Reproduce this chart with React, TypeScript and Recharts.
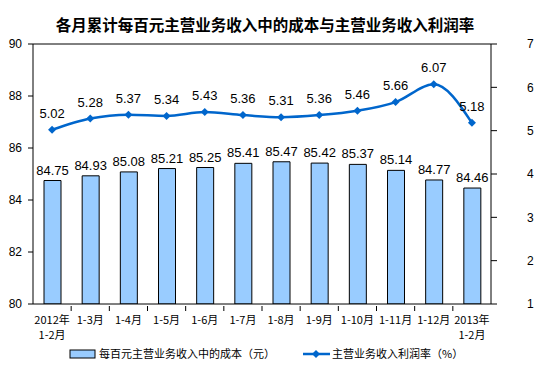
import React from 'react'
import { ComposedChart, Bar, Line, XAxis, YAxis, LabelList, ReferenceLine } from 'recharts'

const periods = ['2012年\n1-2月', '1-3月', '1-4月', '1-5月', '1-6月', '1-7月', '1-8月', '1-9月', '1-10月', '1-11月', '1-12月', '2013年\n1-2月']
const costPer100 = [84.75, 84.93, 85.08, 85.21, 85.25, 85.41, 85.47, 85.42, 85.37, 85.14, 84.77, 84.46]
const profitRate = [5.02, 5.28, 5.37, 5.34, 5.43, 5.36, 5.31, 5.36, 5.46, 5.66, 6.07, 5.18]
const leftTicks = [80, 82, 84, 86, 88, 90]
const rightTicks = [1, 2, 3, 4, 5, 6, 7]

const barName = '每百元主营业务收入中的成本（元）'
const lineName = '主营业务收入利润率（%）'

const data = periods.map((p, i) => ({ name: p, cost: costPer100[i], rate: profitRate[i] }))

const W = 554
const H = 371
const M = { top: 44, right: 63, bottom: 67, left: 33 }
const band = (W - M.left - M.right) / periods.length

const numFont = '"Liberation Sans", Arial, sans-serif'
const cjkFont = '"Noto Sans CJK SC", sans-serif'

function XTick({ x, y, payload, index }: any) {
  const lines = String(payload.value).split('\n')
  return (
    <g>
      {index < periods.length - 1 && (
        <line x1={x + band / 2} x2={x + band / 2} y1={y - 6} y2={y - 1} stroke="#000" />
      )}
      <text x={x} y={y + 12} textAnchor="middle" fontSize={11} fontFamily={cjkFont} fill="#000">
        {lines.map((l, i) => (
          <tspan key={i} x={x} dy={i === 0 ? 0 : 15}>{l}</tspan>
        ))}
      </text>
    </g>
  )
}

function Diamond({ cx, cy }: any) {
  if (cx == null || cy == null) return null
  const r = 4
  return <path d={`M${cx},${cy - r}L${cx + r},${cy}L${cx},${cy + r}L${cx - r},${cy}Z`} fill="#0066CC" />
}

function LegendBox() {
  return (
    <g>
      <rect x={70} y={350} width={25} height={8} fill="#99CCFF" stroke="#000" />
      <text x={99} y={358} fontSize={11} fontFamily={cjkFont} fill="#000">{barName}</text>
      <line x1={303} x2={330} y1={354} y2={354} stroke="#0066CC" strokeWidth={2.5} />
      <Diamond cx={316} cy={354} />
      <text x={332} y={358} fontSize={11} fontFamily={cjkFont} fill="#000">{lineName}</text>
    </g>
  )
}

export default function App() {
  return (
    <div style={{ position: 'absolute', left: 0, top: 0, width: W, height: H, background: '#fff' }}>
      <div style={{ position: 'absolute', top: 14, left: 0, width: 530, textAlign: 'center', fontFamily: cjkFont, fontWeight: 'bold', fontSize: 15.5, lineHeight: '20px', color: '#000' }}>
        各月累计每百元主营业务收入中的成本与主营业务收入利润率
      </div>
      <ComposedChart width={W} height={H} data={data} margin={{ top: M.top, right: 0, bottom: 0, left: 0 }}>
        <XAxis
          dataKey="name"
          xAxisId="x"
          interval={0}
          tickLine={false}
          axisLine={{ stroke: '#000' }}
          tick={<XTick />}
          height={M.bottom}
        />
        <YAxis
          yAxisId="left"
          orientation="left"
          domain={[80, 90]}
          ticks={leftTicks}
          width={M.left}
          tickSize={5}
          tickMargin={6}
          stroke="#000"
          tick={{ fontSize: 12, fontFamily: numFont, fill: '#000' }}
          allowDataOverflow
        />
        <YAxis
          yAxisId="right"
          orientation="right"
          domain={[1, 7]}
          ticks={rightTicks}
          width={M.right}
          tickSize={6}
          tickMargin={30}
          stroke="#000"
          tick={{ fontSize: 12, fontFamily: numFont, fill: '#000' }}
        />
        <ReferenceLine yAxisId="left" xAxisId="x" y={90} stroke="#000" />
        <Bar xAxisId="x" yAxisId="left" dataKey="cost" name={barName} fill="#99CCFF" stroke="#000" strokeWidth={1} barSize={17} isAnimationActive={false}>
          <LabelList dataKey="cost" position="top" offset={6} fontSize={13} fontFamily={numFont} fill="#000" />
        </Bar>
        <Line
          xAxisId="x"
          yAxisId="right"
          type="monotone"
          dataKey="rate"
          name={lineName}
          stroke="#0066CC"
          strokeWidth={2.5}
          dot={<Diamond />}
          activeDot={false}
          isAnimationActive={false}
        >
          <LabelList dataKey="rate" position="top" offset={12} fontSize={13} fontFamily={numFont} fill="#000" />
        </Line>
        <LegendBox />
      </ComposedChart>
    </div>
  )
}
